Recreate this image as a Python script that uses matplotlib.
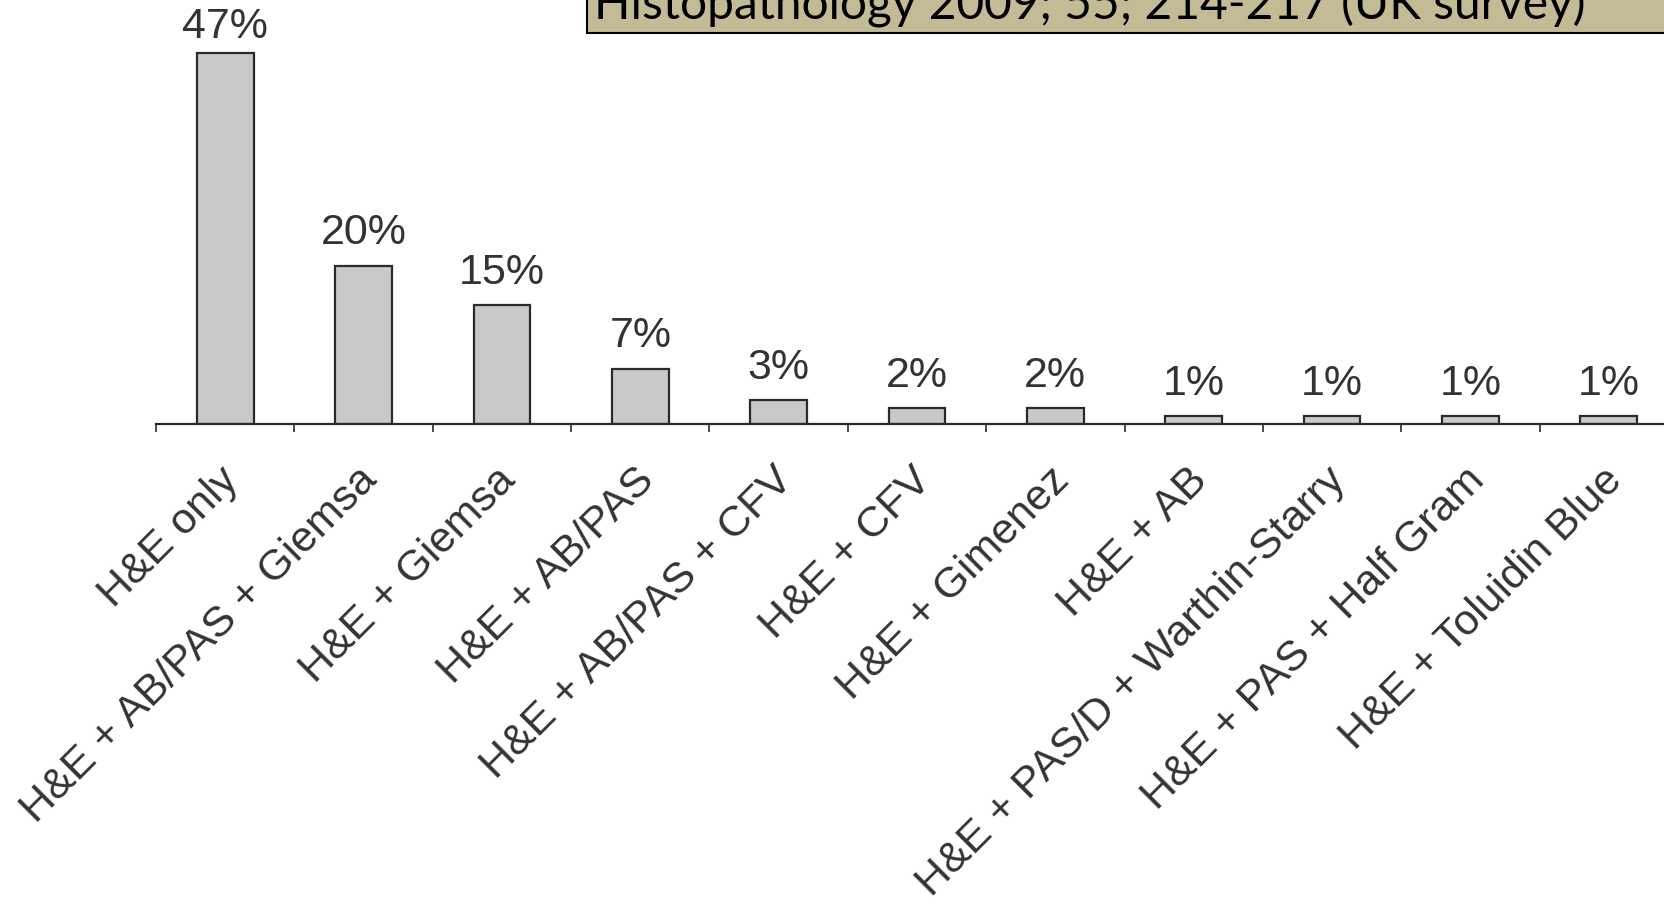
import matplotlib
matplotlib.use("Agg")
import matplotlib.pyplot as plt
from matplotlib.patches import Rectangle

categories = [
    "H&E only",
    "H&E + AB/PAS + Giemsa",
    "H&E + Giemsa",
    "H&E + AB/PAS",
    "H&E + AB/PAS + CFV",
    "H&E + CFV",
    "H&E + Gimenez",
    "H&E + AB",
    "H&E + PAS/D + Warthin-Starry",
    "H&E + PAS + Half Gram",
    "H&E + Toluidin Blue",
]
values = [47, 20, 15, 7, 3, 2, 2, 1, 1, 1, 1]
value_labels = ["47%", "20%", "15%", "7%", "3%", "2%", "2%", "1%", "1%", "1%", "1%"]
source_text = "Histopathology 2009; 55; 214-217 (UK survey)"

W, H = 1664, 909
fig = plt.figure(figsize=(W / 100, H / 100), dpi=100)
plt.rcParams['font.family'] = ['Liberation Sans', 'DejaVu Sans']

# axes: spine at y=424px, starts at x=156px, runs past right edge
ax = fig.add_axes([156 / W, (H - 424) / H, (1678 - 156) / W, 395 / H])
x = list(range(len(categories)))
ax.bar(x, values, width=0.41, color="#c9c9c9", edgecolor="#2a2a2a", linewidth=1.6)
ax.set_xlim(-0.5, len(categories) - 0.5)
ax.set_ylim(0, 50)

for xi, v, lab in zip(x, values, value_labels):
    # tallest label sits closer to its bar so it stays inside the picture
    off = 4 if v > 45 else 9
    ax.annotate(lab, (xi, v), xytext=(0, off), textcoords="offset points",
                ha="center", va="bottom", fontsize=31, color="#333333",
                annotation_clip=False)

# category labels, rotated, right end near the bar centre
for xi, cat in zip(x, categories):
    ax.annotate(cat, (xi, 0), xycoords=ax.get_xaxis_transform(),
                xytext=(5.5, -36), textcoords="offset points",
                rotation=45, rotation_mode="anchor", ha="right", va="center",
                fontsize=31, color="#333333", annotation_clip=False)

for s in ["left", "right", "top"]:
    ax.spines[s].set_visible(False)
ax.spines["bottom"].set_linewidth(1.6)
ax.spines["bottom"].set_color("#2a2a2a")
ax.set_yticks([])
ax.set_xticks([i - 0.5 for i in range(len(categories) + 1)])
ax.set_xticklabels([])
ax.tick_params(axis="x", length=6, width=1.2, color="#2a2a2a", direction="out")

# source box at top, partly cut off by the edge
fig.patches.append(Rectangle((587 / W, (H - 33) / H), 1.2, 0.2,
                             transform=fig.transFigure, facecolor="#c3ba96",
                             edgecolor="black", linewidth=1.5, zorder=5))
title = fig.text(594 / W, (H - 19) / H, source_text, fontsize=36, va="baseline",
                 ha="left", family=["Lato", "DejaVu Sans"], color="black", zorder=6)
# fit the width of the source line to the reference (about 993 px)
r = fig.canvas.get_renderer()
w = title.get_window_extent(r).width
title.set_fontsize(36 * 993 / w)

fig.savefig("out.png", dpi=100)
